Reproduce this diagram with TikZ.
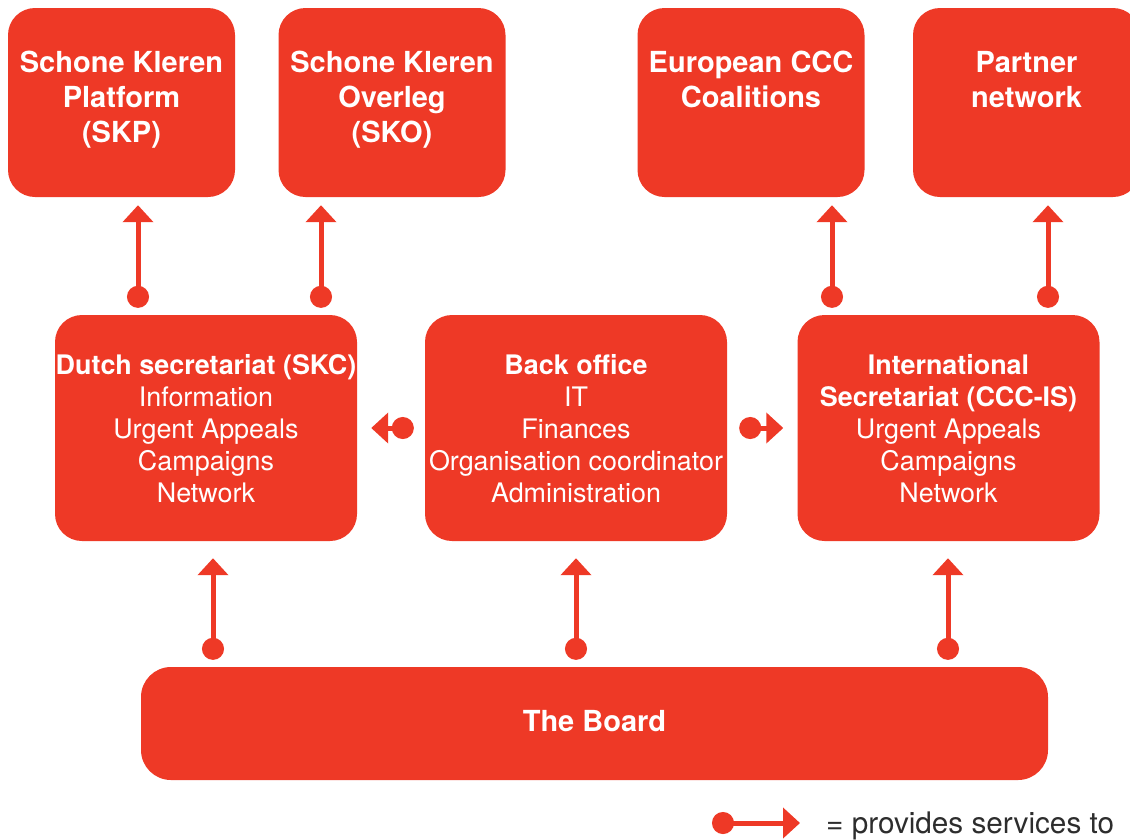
\documentclass[tikz,border=0pt]{standalone}
\usepackage{fontspec}
\setmainfont{TeX Gyre Heros}
\usetikzlibrary{arrows.meta}
\definecolor{cccred}{RGB}{238,57,38}
\definecolor{legendgrey}{RGB}{45,45,45}
\begin{document}
\begin{tikzpicture}[x=1pt,y=-1pt,
  box/.style={rectangle,rounded corners=27pt,fill=cccred,inner sep=0pt,draw=none},
  topbox/.style={box,minimum width=227pt,minimum height=189pt},
  midbox/.style={box,minimum width=302pt,minimum height=226pt},
  toptext/.style={text=white,align=center,inner sep=0pt,anchor=north,
    font=\bfseries\fontsize{29}{35}\selectfont},
  midtext/.style={text=white,align=center,inner sep=0pt,anchor=north,
    font=\fontsize{26.9}{32}\selectfont},
  svc/.style={draw=cccred,line width=5pt,
    {Circle[length=22pt,fill=cccred]}-{Triangle[width=30pt,length=17pt,fill=cccred]}}
]
\useasboundingbox (0,0) rectangle (1130,839);

% top boxes
\node[topbox] (skp) at (121.5,102.5) {};
\node[topbox] (sko) at (392,102.5) {};
\node[topbox] (eur) at (751,102.5) {};
\node[topbox] (par) at (1026.5,102.5) {};
\node[toptext] (skpT) at ([yshift=-43pt]skp.north) {Schone Kleren\\Platform\\(SKP)};
\node[toptext] (skoT) at ([yshift=-43pt]sko.north) {Schone Kleren\\Overleg\\(SKO)};
\node[toptext] (eurT) at ([yshift=-43pt]eur.north) {European CCC\\Coalitions};
\node[toptext] (parT) at ([yshift=-43pt]par.north) {Partner\\network};

% middle boxes
\node[midbox] (dsc) at (206,428) {};
\node[midbox] (bo) at (576,428) {};
\node[midbox] (is) at (948.5,428) {};
\node[midtext] (dscT) at ([yshift=-39pt]dsc.north) {\textbf{Dutch secretariat (SKC)}\\Information\\Urgent Appeals\\Campaigns\\Network};
\node[midtext] (boT) at ([yshift=-39pt]bo.north) {\textbf{Back office}\\IT\\Finances\\Organisation coordinator\\Administration};
\node[midtext] (isT) at ([yshift=-39pt]is.north) {\textbf{International}\\\textbf{Secretariat (CCC-IS)}\\Urgent Appeals\\Campaigns\\Network};

% board
\node[box,rounded corners=30pt,minimum width=907pt,minimum height=113pt] (board) at (594.5,723.5) {};
\node[text=white,inner sep=0pt,anchor=base,font=\bfseries\fontsize{29}{35}\selectfont] (boardT) at (594.5,731) {The Board};

% connectors: top
\draw[svc,shorten <=7pt,shorten >=8pt] (dsc.north -| 138,0) -- (skp.south -| 138,0);
\draw[svc,shorten <=7pt,shorten >=8pt] (dsc.north -| 321,0) -- (sko.south -| 321,0);
\draw[svc,shorten <=7pt,shorten >=8pt] (is.north -| 832,0) -- (eur.south -| 832,0);
\draw[svc,shorten <=7pt,shorten >=8pt] (is.north -| 1048,0) -- (par.south -| 1048,0);
% connectors: bottom
\draw[svc,shorten <=7pt,shorten >=17pt] (board.north -| 213,0) -- (dsc.south -| 213,0);
\draw[svc,shorten <=7pt,shorten >=17pt] (board.north -| 576,0) -- (bo.south -| 576,0);
\draw[svc,shorten <=7pt,shorten >=17pt] (board.north -| 948,0) -- (is.south -| 948,0);
% connectors: horizontal
\draw[svc,shorten <=11pt,shorten >=14pt] (bo.west) -- (dsc.east);
\draw[svc,shorten <=12pt,shorten >=14pt] (bo.east) -- (is.west);

% legend
\coordinate (legA) at (712,823);
\coordinate (legB) at (800,823);
\draw[svc] (legA) -- (legB);
\node[text=legendgrey,inner sep=0pt,anchor=base west,font=\fontsize{29.7}{35}\selectfont] (legT) at (826,833) {= provides services to};
\end{tikzpicture}
\end{document}
